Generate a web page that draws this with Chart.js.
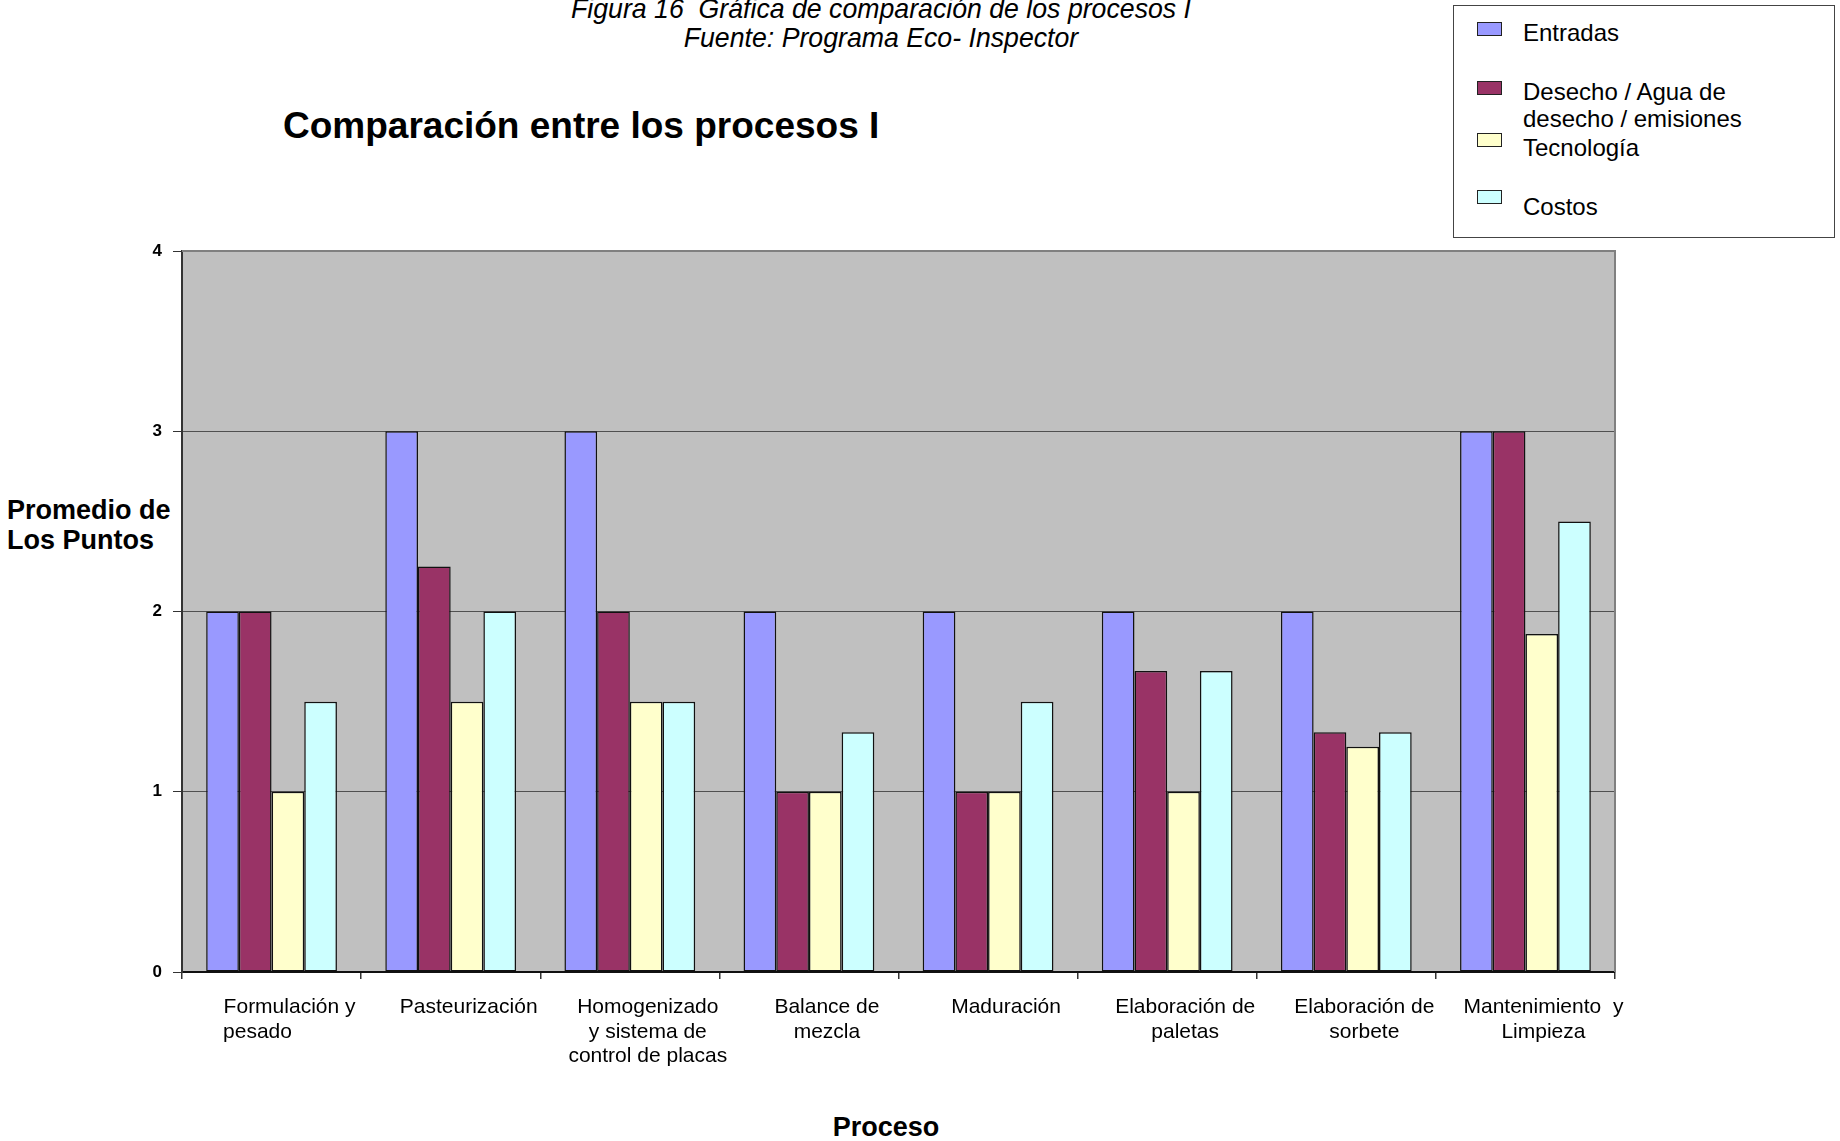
<!DOCTYPE html>
<html lang="es">
<head>
<meta charset="UTF-8">
<title>Comparación entre los procesos I</title>
<script src="https://cdn.jsdelivr.net/npm/chart.js"></script>
<style>
    body { margin: 0; background: #fff; width: 1840px; height: 1141px; overflow: hidden; position: relative;
           font-family: Arial, "Liberation Sans", sans-serif; color: #000; }
    #fig { position: absolute; left: 0; top: -6px; width: 1762px; text-align: center;
           font-family: "Liberation Sans Narrow", "Arial Narrow", Arial, sans-serif; font-style: italic;
           font-size: 28px; line-height: 29px; transform: scaleX(0.953); transform-origin: 881px 0; }
    #titulo { position: absolute; left: 283px; top: 105px; font-size: 37px; font-weight: bold; line-height: 42px; white-space: nowrap; }
    #ytitle { position: absolute; left: 7px; top: 495px; font-size: 27px; font-weight: bold; line-height: 30px; white-space: nowrap; }
    #xtitle { position: absolute; left: 786px; width: 200px; text-align: center; top: 1112px; font-size: 27px; font-weight: bold; line-height: 30px; }
    #leyenda { position: absolute; left: 1453px; top: 5px; width: 382px; height: 233px; border: 1px solid #444; box-sizing: border-box; }
    #leyenda .sw { position: absolute; left: 23px; width: 25px; height: 14px; border: 1.5px solid #222; box-sizing: border-box; }
    #leyenda .tx { position: absolute; left: 69px; font-size: 24px; line-height: 27px; white-space: nowrap; }
    #grafico { position: absolute; left: 0; top: 0; }
</style>
</head>
<body>
<div id="fig">Figura 16&nbsp; Gráfica de comparación de los procesos I<br>Fuente: Programa Eco- Inspector</div>
<div id="titulo">Comparación entre los procesos I</div>
<div id="ytitle">Promedio de<br>Los Puntos</div>
<div id="xtitle">Proceso</div>
<div id="leyenda"></div>
<canvas id="grafico" width="1840" height="1141"></canvas>

<script>
    // Procesos (etiquetas del eje X)
    const procesos = [
        ['Formulación y', 'pesado           '],
        'Pasteurización',
        ['Homogenizado', 'y sistema de', 'control de placas'],
        ['Balance de', 'mezcla'],
        'Maduración',
        ['Elaboración de', 'paletas'],
        ['Elaboración de', 'sorbete'],
        ['Mantenimiento  y', 'Limpieza']
    ];

    // Promedio de puntos por aspecto
    const entradas   = [2, 3, 3, 2, 2, 2, 2, 3];
    const desecho    = [2, 2.25, 2, 1, 1, 1.67, 1.33, 3];
    const tecnologia = [1, 1.5, 1.5, 1, 1, 1, 1.25, 1.875];
    const costos     = [1.5, 2, 1.5, 1.33, 1.5, 1.67, 1.33, 2.5];

    const yTicks = [0, 1, 2, 3, 4];

    const series = [
        { label: ['Entradas'], data: entradas, color: '#9999ff' },
        { label: ['Desecho / Agua de', 'desecho / emisiones'], data: desecho, color: '#993366' },
        { label: ['Tecnología'], data: tecnologia, color: '#ffffcc' },
        { label: ['Costos'], data: costos, color: '#ccffff' }
    ];

    // Fondo gris del área de trazado y borde superior/derecho
    const areaGris = {
        id: 'areaGris',
        beforeDraw(chart) {
            const { ctx, chartArea: a } = chart;
            ctx.save();
            ctx.fillStyle = '#c0c0c0';
            ctx.fillRect(a.left, a.top, a.right - a.left, a.bottom - a.top);
            ctx.restore();
        },
        afterDraw(chart) {
            const { ctx, chartArea: a } = chart;
            ctx.save();
            ctx.strokeStyle = '#808080';
            ctx.lineWidth = 2;
            ctx.beginPath();
            ctx.moveTo(a.left, a.top);
            ctx.lineTo(a.right, a.top);
            ctx.lineTo(a.right, a.bottom);
            ctx.stroke();
            ctx.restore();
        }
    };

    const ctx = document.getElementById('grafico').getContext('2d');
    const chart = new Chart(ctx, {
        type: 'bar',
        data: {
            labels: procesos,
            datasets: series.map(s => ({
                label: s.label.join(' '),
                data: s.data,
                backgroundColor: s.color,
                borderColor: '#111',
                borderWidth: 1.5,
                borderSkipped: false,
                categoryPercentage: 0.73,
                barPercentage: 1.0
            }))
        },
        options: {
            responsive: false,
            animation: false,
            layout: { padding: { left: 132, top: 251, right: 225, bottom: 69 } },
            plugins: {
                legend: { display: false },
                tooltip: { enabled: false }
            },
            scales: {
                x: {
                    afterFit: scale => { scale.height = 100; },
                    grid: { drawOnChartArea: false, drawTicks: true, tickLength: 7, color: '#333', lineWidth: 1.5 },
                    border: { display: true, color: '#111', width: 2 },
                    ticks: {
                        color: '#000',
                        padding: 16,
                        labelOffset: 18,
                        maxRotation: 0,
                        autoSkip: false,
                        font: { family: 'Arial, "Liberation Sans"', size: 21, lineHeight: 1.17 }
                    }
                },
                y: {
                    min: 0,
                    max: 4,
                    afterFit: scale => { scale.width = 50; },
                    afterBuildTicks: scale => { scale.ticks = yTicks.map(v => ({ value: v })); },
                    grid: {
                        color: c => c.tick && c.tick.value === 4 ? '#808080' : '#505050',
                        tickColor: '#333',
                        lineWidth: 1,
                        tickLength: 9
                    },
                    border: { display: true, color: '#333', width: 2 },
                    ticks: {
                        color: '#000',
                        padding: 11,
                        font: { family: 'Arial, "Liberation Sans"', size: 17, weight: 'bold' }
                    }
                }
            }
        },
        plugins: [areaGris]
    });

    // Leyenda en recuadro, arriba a la derecha
    const leyenda = document.getElementById('leyenda');
    const filas = [
        { sw: 16, tx: 13 },
        { sw: 75, tx: 72 },
        { sw: 127, tx: 128 },
        { sw: 184, tx: 187 }
    ];
    series.forEach((s, i) => {
        const sw = document.createElement('div');
        sw.className = 'sw';
        sw.style.top = filas[i].sw + 'px';
        sw.style.background = s.color;
        leyenda.appendChild(sw);
        const tx = document.createElement('div');
        tx.className = 'tx';
        tx.style.top = filas[i].tx + 'px';
        tx.innerHTML = s.label.join('<br>');
        leyenda.appendChild(tx);
    });
</script>
</body>
</html>
